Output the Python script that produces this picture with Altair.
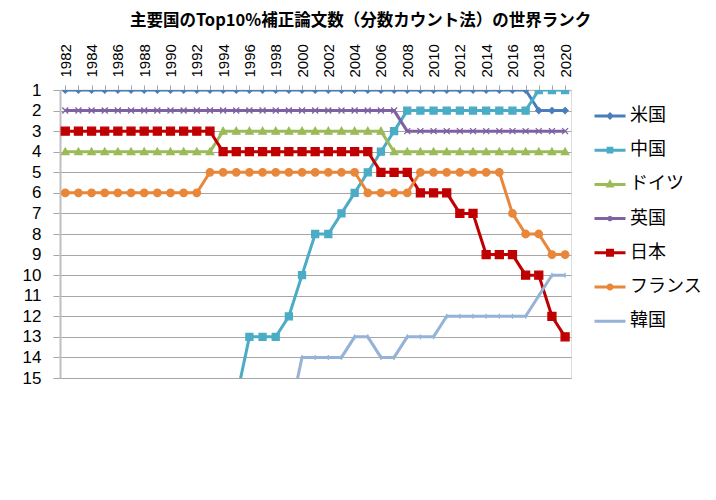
import altair as alt
import pandas as pd

years = list(range(1982, 2021))
countries = ["米国", "中国", "ドイツ", "英国", "日本", "フランス", "韓国"]
colors = ["#4A7EBB", "#4BACC6", "#9BBB59", "#7F62A1", "#C00000", "#E8873A", "#95B3D7"]

N = None
rank_us = [1, 1, 1, 1, 1, 1, 1, 1, 1, 1, 1, 1, 1, 1, 1, 1, 1, 1, 1, 1,
           1, 1, 1, 1, 1, 1, 1, 1, 1, 1, 1, 1, 1, 1, 1, 1, 2, 2, 2]
rank_cn = [N, N, N, N, N, N, N, N, N, N, N, N, N, 16, 13, 13, 13, 12, 10, 8,
           8, 7, 6, 5, 4, 3, 2, 2, 2, 2, 2, 2, 2, 2, 2, 2, 1, 1, 1]
rank_de = [4, 4, 4, 4, 4, 4, 4, 4, 4, 4, 4, 4, 3, 3, 3, 3, 3, 3, 3, 3,
           3, 3, 3, 3, 3, 4, 4, 4, 4, 4, 4, 4, 4, 4, 4, 4, 4, 4, 4]
rank_uk = [2, 2, 2, 2, 2, 2, 2, 2, 2, 2, 2, 2, 2, 2, 2, 2, 2, 2, 2, 2,
           2, 2, 2, 2, 2, 2, 3, 3, 3, 3, 3, 3, 3, 3, 3, 3, 3, 3, 3]
rank_jp = [3, 3, 3, 3, 3, 3, 3, 3, 3, 3, 3, 3, 4, 4, 4, 4, 4, 4, 4, 4,
           4, 4, 4, 4, 5, 5, 5, 6, 6, 6, 7, 7, 9, 9, 9, 10, 10, 12, 13]
rank_fr = [6, 6, 6, 6, 6, 6, 6, 6, 6, 6, 6, 5, 5, 5, 5, 5, 5, 5, 5, 5,
           5, 5, 5, 6, 6, 6, 6, 5, 5, 5, 5, 5, 5, 5, 7, 8, 8, 9, 9]
rank_kr = [N, N, N, N, N, N, N, N, N, N, N, N, N, N, N, N, N, 17, 14, 14,
           14, 14, 13, 13, 14, 14, 13, 13, 13, 12, 12, 12, 12, 12, 12, 12, 11, 10, 10]

series = [rank_us, rank_cn, rank_de, rank_uk, rank_jp, rank_fr, rank_kr]

rows = []
for name, vals in zip(countries, series):
    for yr, v in zip(years, vals):
        if v is not None:
            rows.append({"year": yr, "rank": v, "country": name})
df = pd.DataFrame(rows)

marker_paths = [
    "M0,-0.6L0.6,0L0,0.6L-0.6,0Z",
    "M-0.7,-0.7H0.7V0.7H-0.7Z",
    "M0,-0.75L0.75,0.6H-0.75Z",
    "M-0.6,-0.6L0.6,0.6M-0.6,0.6L0.6,-0.6",
    "M-0.8,-0.8H0.8V0.8H-0.8Z",
    "M0.75,0A0.75,0.75,0,1,1,-0.75,0A0.75,0.75,0,1,1,0.75,0Z",
    "M0,-0.5V0.5",
]
legend_paths = [
    "M-1,0H1M0,-0.12L0.12,0L0,0.12L-0.12,0Z",
    "M-1,0H1M-0.12,-0.12H0.12V0.12H-0.12Z",
    "M-1,0H1M0,-0.14L0.13,0.1H-0.13Z",
    "M-1,0H1M-0.12,-0.12L0.12,0.12M-0.12,0.12L0.12,-0.12",
    "M-1,0H1M-0.16,-0.16H0.16V0.16H-0.16Z",
    "M-1,0H1M0.13,0A0.13,0.13,0,1,1,-0.13,0A0.13,0.13,0,1,1,0.13,0Z",
    "M-1,0H1M0,-0.1V0.1",
]

x_enc = alt.X(
    "year:Q",
    scale=alt.Scale(domain=[1981.6, 2020.45], nice=False, zero=False),
    axis=alt.Axis(
        orient="top", title=None, values=years, labelAngle=-90,
        labelAlign="left", labelBaseline="middle",
        labelExpr="datum.value % 2 == 0 ? datum.value + '' : ''",
        labelFont="Liberation Sans", labelFontSize=15, labelColor="#000000",
        labelPadding=8, tickSize=5, tickColor="#A6A6A6", domainColor="#BFBFBF",
        domainWidth=1.5, grid=False, labelOverlap=False,
    ),
)
y_enc = alt.Y(
    "rank:Q",
    scale=alt.Scale(domain=[1, 15], reverse=True, nice=False, zero=False),
    axis=alt.Axis(
        title=None, values=list(range(1, 16)), labelFont="Liberation Sans",
        labelFontSize=17, labelColor="#000000", labelPadding=12, tickSize=7,
        tickColor="#A6A6A6", domainColor="#BFBFBF", domainWidth=2,
        grid=True, gridColor="#A6A6A6", gridWidth=1, labelOverlap=False,
    ),
)

color_scale = alt.Scale(domain=countries, range=colors)

lines = alt.Chart(df).mark_line(strokeWidth=3, clip=True).encode(
    x=x_enc, y=y_enc,
    color=alt.Color("country:N", scale=color_scale, legend=None),
    detail="country:N",
)

points = alt.Chart(df).mark_point(filled=True, size=100, strokeWidth=1.3, opacity=1, clip=True).encode(
    x=x_enc, y=y_enc,
    color=alt.Color("country:N", scale=color_scale, legend=None),
    stroke=alt.Stroke("country:N", scale=color_scale, legend=None),
    shape=alt.Shape("country:N", scale=alt.Scale(domain=countries, range=marker_paths), legend=None),
)

legend_props = dict(
    title=None, orient="none", legendX=533, legendY=9,
    symbolSize=961, symbolStrokeWidth=3, labelFont="Noto Sans CJK JP",
    labelFontSize=18, labelColor="#000000", labelOffset=3, rowPadding=8.2,
    symbolOpacity=1,
)

legend_layer = alt.Chart(df).mark_point(filled=False, size=961, strokeWidth=3, opacity=1).encode(
    x=x_enc, y=y_enc,
    stroke=alt.Stroke("country:N", scale=color_scale, legend=alt.Legend(**legend_props)),
    shape=alt.Shape(
        "country:N", scale=alt.Scale(domain=countries, range=legend_paths),
        legend=alt.Legend(**legend_props),
    ),
).transform_filter("datum.year < 0")

chart = alt.layer(lines, points, legend_layer).resolve_scale(
    color="independent", stroke="independent", shape="independent"
).properties(
    width=511,
    height=288,
    padding={"left": 52, "top": 82, "right": 137, "bottom": 110},
    autosize=alt.AutoSizeParams(type="none"),
    title=alt.TitleParams(
        "主要国のTop10%補正論文数（分数カウント法）の世界ランク",
        font="Noto Sans CJK JP", fontSize=16.5, fontWeight="bold", color="#000000",
        anchor="middle", dx=45, offset=14,
    ),
).configure_view(stroke=None).configure(background="#FFFFFF")

chart.save("out.html", embed_options={"renderer": "svg", "actions": False})
